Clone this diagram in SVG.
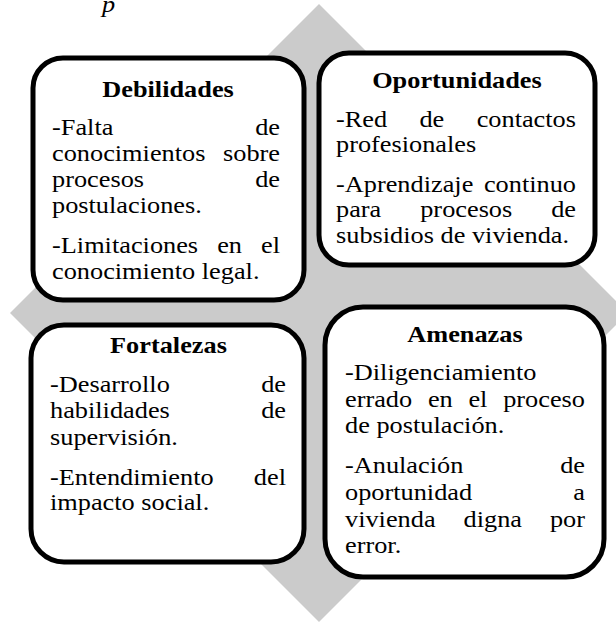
<svg xmlns="http://www.w3.org/2000/svg" width="616" height="622" viewBox="0 0 616 622">
<style>
.box{fill:#fff;stroke:#000;stroke-width:5}
.t{font-family:"Liberation Serif","Times New Roman",serif;font-size:23.5px;fill:#000}
.h{font-weight:bold;text-anchor:middle}
.e{text-anchor:end}
</style>
<rect width="616" height="622" fill="#fff"/>
<text class="t" transform="translate(102,12) scale(1.12,1)" font-style="italic">p</text>
<polygon id="diamond" points="319,4 628,313 319,622 10,313" fill="#cbcbcb"/>
<g id="connectors"/>
<g id="debilidades">
<rect class="box" x="33" y="58" width="271" height="242" rx="30"/>
<g class="t" transform="translate(52,0) scale(1.12,1)">
<text class="t h" x="103.6" y="97">Debilidades</text>
<text class="t" x="0" y="135">-Falta</text><text class="t e" x="203.6" y="135">de</text>
<text class="t" x="0" y="161">conocimientos</text><text class="t e" x="203.6" y="161">sobre</text>
<text class="t" x="0" y="187">procesos</text><text class="t e" x="203.6" y="187">de</text>
<text class="t" x="0" y="213">postulaciones.</text>
<text class="t" x="0" y="253">-Limitaciones</text><text class="t" x="147.5" y="253">en</text><text class="t e" x="203.6" y="253">el</text>
<text class="t" x="0" y="279">conocimiento legal.</text>
</g>
</g>
<g id="oportunidades">
<rect class="box" x="319" y="53" width="276" height="212" rx="30"/>
<g transform="translate(336,0) scale(1.12,1)">
<text class="t h" x="108" y="88">Oportunidades</text>
<text class="t" x="0" y="127">-Red</text><text class="t" x="74.5" y="127">de</text><text class="t e" x="214.3" y="127">contactos</text>
<text class="t" x="0" y="152">profesionales</text>
<text class="t" x="0" y="192">-Aprendizaje</text><text class="t e" x="214.3" y="192">continuo</text>
<text class="t" x="0" y="217">para</text><text class="t" x="75.2" y="217">procesos</text><text class="t e" x="214.3" y="217">de</text>
<text class="t" x="0" y="243">subsidios de vivienda.</text>
</g>
</g>
<g id="fortalezas">
<rect class="box" x="31" y="325" width="273" height="237" rx="33"/>
<g transform="translate(50,0) scale(1.12,1)">
<text class="t h" x="105.8" y="353">Fortalezas</text>
<text class="t" x="0" y="392">-Desarrollo</text><text class="t e" x="210.7" y="392">de</text>
<text class="t" x="0" y="418">habilidades</text><text class="t e" x="210.7" y="418">de</text>
<text class="t" x="0" y="445">supervisión.</text>
<text class="t" x="0" y="485">-Entendimiento</text><text class="t e" x="210.7" y="485">del</text>
<text class="t" x="0" y="510">impacto social.</text>
</g>
</g>
<g id="amenazas">
<rect class="box" x="325" y="307" width="279" height="270" rx="38"/>
<g transform="translate(345,0) scale(1.12,1)">
<text class="t h" x="107.1" y="342">Amenazas</text>
<text class="t" x="0" y="380">-Diligenciamiento</text>
<text class="t" x="0" y="407">errado</text><text class="t" x="74" y="407">en</text><text class="t" x="110.2" y="407">el</text><text class="t e" x="214.3" y="407">proceso</text>
<text class="t" x="0" y="433">de postulación.</text>
<text class="t" x="0" y="473">-Anulación</text><text class="t e" x="214.3" y="473">de</text>
<text class="t" x="0" y="500">oportunidad</text><text class="t e" x="214.3" y="500">a</text>
<text class="t" x="0" y="527">vivienda</text><text class="t" x="105.9" y="527">digna</text><text class="t e" x="214.3" y="527">por</text>
<text class="t" x="0" y="553">error.</text>
</g>
</g>
</svg>
